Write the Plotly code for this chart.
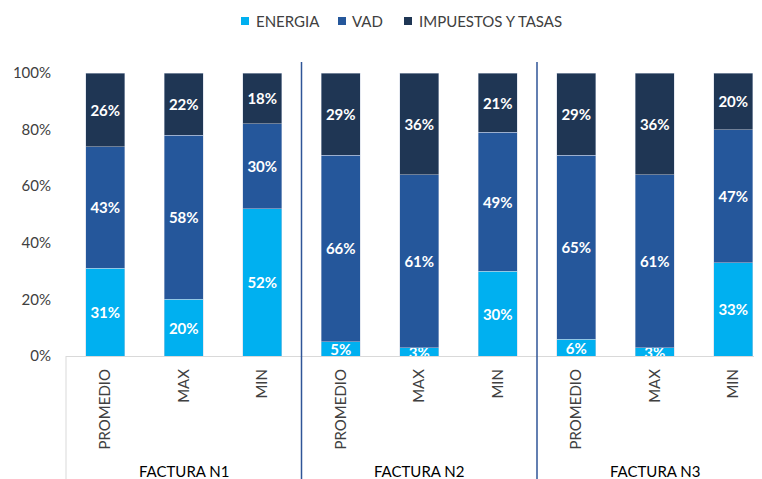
import plotly.graph_objects as go

categories = ["PROMEDIO", "MAX", "MIN", "PROMEDIO", "MAX", "MIN", "PROMEDIO", "MAX", "MIN"]
groups = ["FACTURA N1", "FACTURA N2", "FACTURA N3"]
energia = [31, 20, 52, 5, 3, 30, 6, 3, 33]
vad = [43, 58, 30, 66, 61, 49, 65, 61, 47]
impuestos = [26, 22, 18, 29, 36, 21, 29, 36, 20]
y_ticks = [0, 0.2, 0.4, 0.6, 0.8, 1.0]

series = [
    ("ENERGIA", energia, "#00B0F0"),
    ("VAD", vad, "#25579B"),
    ("IMPUESTOS Y TASAS", impuestos, "#1F3654"),
]

FONT = "Lato, Calibri, sans-serif"
xs = list(range(len(categories)))

# page offset of the browser's default body margin
OFF = 8
W, H = 762, 479
PL, PT, PB = 66 - OFF, 73 - OFF, 356 - OFF   # plot left / top / bottom in figure px
PW = W - PL - 0 - OFF                          # plot width (to page edge)
PH = PB - PT
SLOT = 78.5


def px_x(page_x):
    return (page_x - OFF - PL) / PW


def px_y(page_y):
    return (PB - (page_y - OFF)) / PH


fig = go.Figure()
for name, vals, color in series:
    fig.add_trace(go.Bar(
        x=xs, y=[v / 100 for v in vals], name=name,
        marker=dict(color=color, line=dict(color="rgba(200,210,225,0.6)", width=0.8)),
        text=[f"{v}%" for v in vals], textposition="inside", insidetextanchor="middle",
        textangle=0, constraintext="none",
        textfont=dict(family=FONT, size=15, color="white", weight="bold"),
        showlegend=False, hoverinfo="skip",
    ))

fig.update_layout(
    width=W, height=H,
    barmode="stack", bargap=0.5,
    plot_bgcolor="white", paper_bgcolor="white",
    margin=dict(l=PL, r=OFF, t=PT, b=H - PB, autoexpand=False),
    font=dict(family=FONT, size=15, color="#404040"),
    uniformtext=dict(minsize=15, mode="show"),
    showlegend=False,
    xaxis=dict(range=[-0.5, -0.5 + PW / SLOT], tickvals=xs, ticktext=categories,
               tickangle=-90, showline=True, linecolor="#D9D9D9", linewidth=1,
               showgrid=False, zeroline=False, ticks="", ticklabelstandoff=6,
               tickfont=dict(family=FONT, size=15, color="#404040")),
    yaxis=dict(range=[0, 1], tickvals=y_ticks, tickformat=".0%", showgrid=False,
               zeroline=False, showline=False, ticks="", ticklabelstandoff=14,
               tickfont=dict(family=FONT, size=15, color="#404040")),
)

# legend drawn as swatches + text
legend_sq = [241, 338, 404]
legend_tx = [254, 350, 417]
for (name, _, color), sx, tx in zip(series, legend_sq, legend_tx):
    fig.add_shape(type="rect", xref="paper", yref="paper",
                  x0=px_x(sx), x1=px_x(sx + 8), y0=px_y(25), y1=px_y(17),
                  fillcolor=color, line=dict(width=0))
    fig.add_annotation(x=px_x(tx), y=px_y(21), xref="paper", yref="paper",
                       text=name, showarrow=False, xanchor="left", yanchor="middle",
                       font=dict(family=FONT, size=15, color="#404040"))

# grey frame line at the left of the category area
fig.add_shape(type="line", xref="paper", yref="paper", x0=0, x1=0, y0=0, y1=px_y(490),
              line=dict(color="#D9D9D9", width=1))
# blue separators between groups
for sep in [2.5, 5.5]:
    fig.add_shape(type="line", xref="x", yref="paper", x0=sep, x1=sep,
                  y0=px_y(62), y1=px_y(490),
                  line=dict(color="#2F5597", width=1.5))

for i, g in enumerate(groups):
    fig.add_annotation(x=i * 3 + 1, y=px_y(471), xref="x", yref="paper",
                       text=g, showarrow=False, yanchor="middle",
                       font=dict(family=FONT, size=15, color="#000000"))

fig.write_html("out.html")
